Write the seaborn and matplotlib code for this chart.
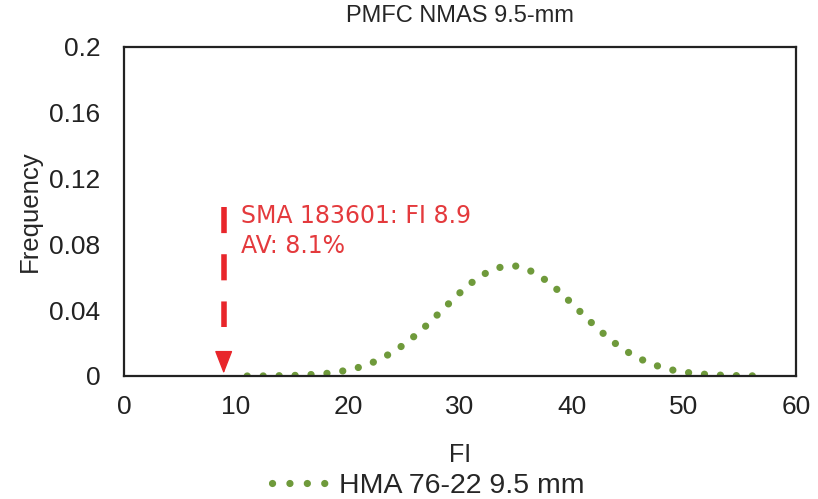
import pandas as pd
import seaborn as sns
from matplotlib import pyplot as plt

# FI values and frequency
fi = list(range(11, 58))
frequency = [
    0.0000, 0.0000, 0.0001, 0.0002, 0.0003, 0.0006, 0.0010, 0.0015, 0.0024, 0.0036,
    0.0053, 0.0076, 0.0107, 0.0145, 0.0191, 0.0246, 0.0307, 0.0373, 0.0440, 0.0506,
    0.0565, 0.0614, 0.0649, 0.0668, 0.0668, 0.0649, 0.0614, 0.0565, 0.0506, 0.0440,
    0.0373, 0.0307, 0.0246, 0.0191, 0.0145, 0.0107, 0.0076, 0.0053, 0.0036, 0.0024,
    0.0015, 0.0010, 0.0006, 0.0003, 0.0002, 0.0001, 0.0000,
]
series_name = 'HMA 76-22 9.5 mm'

sma_fi = 8.9
sma_label = 'SMA 183601: FI 8.9\nAV: 8.1%'

x_ticks = [0, 10, 20, 30, 40, 50, 60]
y_ticks = [0, 0.04, 0.08, 0.12, 0.16, 0.2]
y_tick_labels = ['0', '0.04', '0.08', '0.12', '0.16', '0.2']

green = '#6f9a3b'
red = '#e8262b'

if __name__ == '__main__':
    sns.set_style('white')
    plt.rcParams['font.family'] = ['Liberation Sans', 'DejaVu Sans']

    df = pd.DataFrame({'FI': fi, 'Frequency': frequency, 'series': series_name})

    fig = plt.figure(figsize=(8.18, 4.99), dpi=100)
    ax = fig.add_axes([0.1516, 0.2465, 0.8214, 0.6595])

    sns.lineplot(data=df, x='FI', y='Frequency', hue='series', palette=[green],
                 ax=ax, legend=False, linewidth=5.2,
                 linestyle=(0, (0.01, 2.2)), dash_capstyle='round')

    # dashed arrow for the SMA sample
    ax.plot([sma_fi, sma_fi], [0.103, 0.030], color=red, linewidth=4,
            linestyle=(0, (4.7, 3.8)), dash_capstyle='butt')
    ax.annotate('', xy=(sma_fi, 0.0015), xytext=(sma_fi, 0.0145),
                arrowprops=dict(arrowstyle='-|>,head_length=0.72,head_width=0.28',
                                mutation_scale=20, color=red, lw=1,
                                shrinkA=0, shrinkB=0))
    ax.text(10.45, 0.1048, sma_label, color='#e43a3d', fontsize=17,
            family=['DejaVu Sans'], va='top', ha='left', linespacing=1.32)

    ax.set_xlim(0, 60)
    ax.set_ylim(0, 0.2)
    ax.set_xticks(x_ticks)
    ax.set_yticks(y_ticks)
    ax.set_yticklabels(y_tick_labels)
    ax.tick_params(axis='both', direction='in', length=5, width=1.2,
                   labelsize=19, colors='#222222')
    ax.tick_params(axis='x', pad=14)
    ax.tick_params(axis='y', pad=17)
    for spine in ax.spines.values():
        spine.set_color('#222222')
        spine.set_linewidth(1.6)

    ax.set_title('PMFC NMAS 9.5-mm', fontsize=17, pad=18)
    ax.set_xlabel('FI', fontsize=18, labelpad=17)
    ax.set_ylabel('Frequency', fontsize=18.5, labelpad=5)

    handle = plt.Line2D([], [], color=green, linewidth=5.2,
                        linestyle=(0, (0.01, 2.4)), dash_capstyle='round')
    fig.legend([handle], [series_name], loc='center', bbox_to_anchor=(0.524, 0.026),
               frameon=False, fontsize=20.5, handlelength=1.9, handletextpad=0.45,
               borderpad=0, borderaxespad=0)

    plt.savefig('out.png', dpi=100)
